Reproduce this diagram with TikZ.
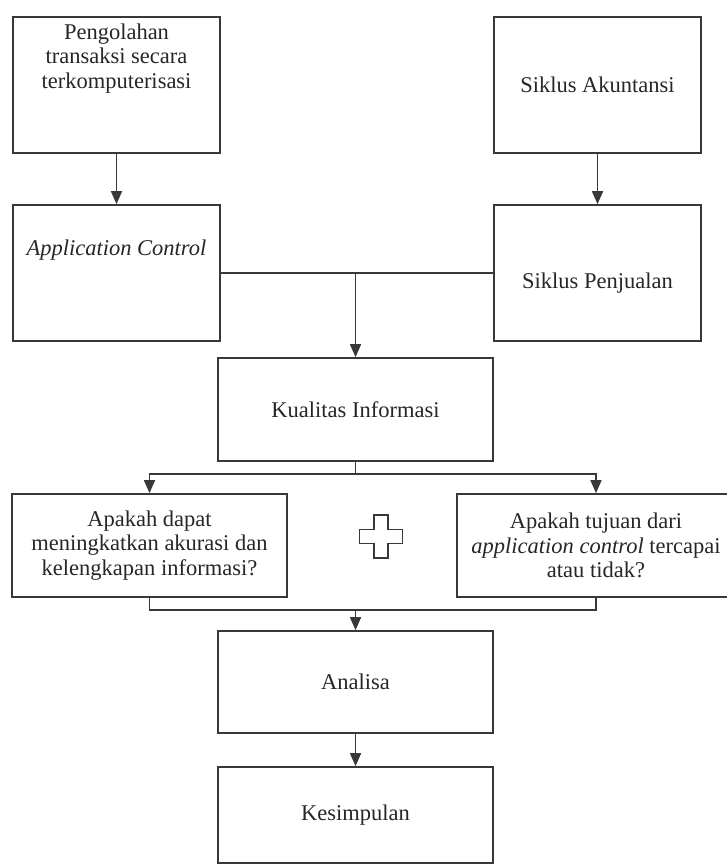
\documentclass[tikz,border=0pt]{standalone}
\usepackage{fontspec}
\setmainfont{Liberation Serif}
\usetikzlibrary{calc}
\usetikzlibrary{arrows.meta}
\definecolor{garis}{HTML}{383838}
\definecolor{teks}{HTML}{262626}

\begin{document}
\begin{tikzpicture}[x=1pt,y=1pt,
                    kotak/.style={draw=garis,line width=1.7pt,inner sep=0pt,align=center,
                                  text=teks,font=\fontsize{22.5}{24.5}\selectfont},
                    lebar/.style={minimum width=207pt,minimum height=136pt},
                    sedang/.style={minimum width=275pt,minimum height=103pt},
                    hubung/.style={draw=garis,line width=1.7pt},
                    panah/.style={hubung,-{Triangle[width=11pt,length=13pt]}}]
 \useasboundingbox (0,0) rectangle (726,864);
 \node[kotak,lebar,text depth=58pt] (olah) at (116.5,779)
      {Pengolahan\\transaksi secara\\terkomputerisasi};
 \node[kotak,lebar] (akun) at (597.5,779) {Siklus Akuntansi};
 \node[kotak,lebar,text depth=51pt] (appc) at (116.5,591) {\textit{Application Control}};
 \node[kotak,lebar,text height=36pt] (penj) at (597.5,591) {Siklus Penjualan};
 \node[kotak,sedang] (kual) at (355.5,454.5) {Kualitas Informasi};
 \node[kotak,sedang] (tanya1) at (149.5,318.5)
      {Apakah dapat\\meningkatkan akurasi dan\\kelengkapan informasi?};
 \node[kotak,sedang,minimum width=278pt] (tanya2) at (596,318.5)
      {Apakah tujuan dari\\\textit{application control} tercapai\\atau tidak?};
 \node[kotak,sedang,minimum height=102pt] (anal) at (355.5,182) {Analisa};
 \node[kotak,sedang,minimum height=96pt] (simp) at (355.5,49) {Kesimpulan};

 \draw[panah] (olah) -- (appc);
 \draw[panah] (akun) -- (penj);
 \draw[hubung] (appc.east) -- (penj.west);
 \draw[panah] (appc.east -| kual.north) -- (kual.north);

 \coordinate (bagi) at ($(kual.south)+(0,-12)$);
 \draw[hubung] (kual.south) -- (bagi);
 \draw[panah] (bagi) -| (tanya1.north);
 \draw[panah] (bagi) -| (tanya2.north);

 \coordinate (gabung) at ($(tanya1.south)+(0,-12)$);
 \draw[hubung] (tanya1.south) -- (gabung) -| (tanya2.south);
 \draw[panah] (gabung -| anal.north) -- (anal.north);
 \draw[panah] (anal) -- (simp);

 \draw[hubung,line width=1.4pt,shift={(381,327.5)}]
   (-7,21.5) -- (7,21.5) -- (7,7) -- (21.5,7) -- (21.5,-7) -- (7,-7) -- (7,-21.5)
   -- (-7,-21.5) -- (-7,-7) -- (-21.5,-7) -- (-21.5,7) -- (-7,7) -- cycle;
\end{tikzpicture}
\end{document}
